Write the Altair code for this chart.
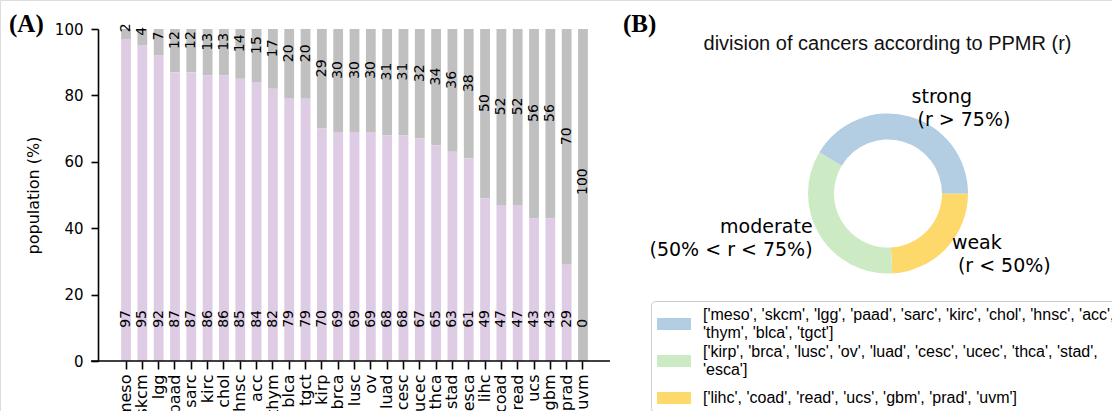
import json
import math
import textwrap
import altair as alt
import pandas as pd

# ---------------- data ----------------
cancers = ["meso", "skcm", "lgg", "paad", "sarc", "kirc", "chol", "hnsc", "acc", "thym",
           "blca", "tgct", "kirp", "brca", "lusc", "ov", "luad", "cesc", "ucec", "thca",
           "stad", "esca", "lihc", "coad", "read", "ucs", "gbm", "prad", "uvm"]
pink_pct = [97, 95, 92, 87, 87, 86, 86, 85, 84, 82, 79, 79, 70, 69, 69, 69, 68, 68, 67, 65,
            63, 61, 49, 47, 47, 43, 43, 29, 0]
grey_pct = [2, 4, 7, 12, 12, 13, 13, 14, 15, 17, 20, 20, 29, 30, 30, 30, 31, 31, 32, 34,
            36, 38, 50, 52, 52, 56, 56, 70, 100]
y_ticks = [0, 20, 40, 60, 80, 100]

groups = ["strong", "moderate", "weak"]
group_counts = [12, 10, 7]
group_line1 = ["strong", "moderate", "weak"]
group_line2 = ["(r > 75%)", "(50% < r < 75%)", "(r < 50%)"]
group_side = ["right", "left", "right"]
group_colors = ["#b3cde3", "#ccebc5", "#fdd86b"]
group_members = [
    ["meso", "skcm", "lgg", "paad", "sarc", "kirc", "chol", "hnsc", "acc", "thym", "blca", "tgct"],
    ["kirp", "brca", "lusc", "ov", "luad", "cesc", "ucec", "thca", "stad", "esca"],
    ["lihc", "coad", "read", "ucs", "gbm", "prad", "uvm"],
]
panel_b_title = "division of cancers according to PPMR (r)"

PINK = "#decbe4"
GREY = "#c0c0c0"

# ---------------- bar panel ----------------
bars_df = pd.DataFrame({"cancer": cancers, "pink": pink_pct, "grey": grey_pct})

x_enc = alt.X(
    "cancer:N", sort=cancers, title=None,
    scale=alt.Scale(range=[104.8, 604.2], paddingInner=0.4, paddingOuter=1),
    axis=alt.Axis(orient="bottom", offset=-50, labelAngle=-90, labelPadding=5, tickSize=8,
                  labelFont="DejaVu Sans", labelFontSize=16, labelColor="black",
                  domain=False, tickColor="black", tickWidth=1.6, grid=False),
)
y_scale = alt.Scale(domain=[0, 100], range=[361, 29], nice=False, zero=True)
y_enc = alt.Y(
    "pink:Q", scale=y_scale,
    axis=alt.Axis(values=y_ticks, offset=-98, tickSize=7, labelPadding=8,
                  labelFont="DejaVu Sans", labelFontSize=15, labelColor="black",
                  domainColor="black", tickColor="black", domainWidth=1.6, tickWidth=1.6,
                  grid=False, title="population (%)", titleFont="DejaVu Sans",
                  titleFontSize=16, titleFontWeight="normal", titleColor="black",
                  titlePadding=13),
)

base = alt.Chart(bars_df)
pink_bars = base.mark_bar(color=PINK).encode(x=x_enc, y=y_enc)
grey_bars = base.mark_bar(color=GREY).encode(x=x_enc, y=alt.Y("pink:Q", scale=y_scale), y2=alt.datum(100))
top_labels = base.transform_calculate(ytop="100 - datum.grey / 2").mark_text(
    angle=270, align="left", baseline="middle", font="DejaVu Sans", fontSize=14, color="black"
).encode(x=x_enc, y=alt.Y("ytop:Q", scale=y_scale), text="grey:Q")
bottom_labels = base.mark_text(
    angle=270, align="left", baseline="middle", font="DejaVu Sans", fontSize=14, color="black"
).encode(x=x_enc, y=alt.datum(10, scale=y_scale), text="pink:Q")
# x-axis spine spanning the full plot width like the reference
x_spine = alt.Chart(pd.DataFrame({"v": [0]})).mark_rule(color="black", strokeWidth=1.6).encode(
    y=alt.Y("v:Q", scale=y_scale), x=alt.value(91), x2=alt.value(610)
)

# ---------------- donut panel ----------------
order_idx = list(range(len(groups)))[::-1]  # weak first clockwise from 3 o'clock
donut_df = pd.DataFrame({"group": groups, "count": group_counts, "ord": order_idx,
                         "line1": group_line1, "line2": group_line2, "side": group_side})
donut_df = donut_df.sort_values("ord")
donut_df["mid"] = donut_df["count"].cumsum() - donut_df["count"] / 2
total = sum(group_counts)

theta_scale = alt.Scale(domain=[0, total], range=[math.pi / 2, math.pi / 2 + 2 * math.pi])
CX, CY = 888, 193.5

legend_lines = {g: textwrap.wrap(str(m), 70) for g, m in zip(groups, group_members)}
label_expr = (
    f"datum.label == 'strong' ? {json.dumps(legend_lines['strong'])} : "
    f"datum.label == 'moderate' ? {json.dumps(legend_lines['moderate'])} : "
    f"{json.dumps(legend_lines['weak'])}"
)
baseline_expr = (
    f"datum.label == 'strong' ? {json.dumps('line-bottom' if len(legend_lines['strong']) > 1 else 'middle')} : "
    f"datum.label == 'moderate' ? {json.dumps('line-bottom' if len(legend_lines['moderate']) > 1 else 'middle')} : "
    f"{json.dumps('line-bottom' if len(legend_lines['weak']) > 1 else 'middle')}"
)

arc = alt.Chart(donut_df).mark_arc(innerRadius=54, outerRadius=80).encode(
    theta=alt.Theta("count:Q", stack=True, scale=theta_scale),
    color=alt.Color(
        "group:N",
        scale=alt.Scale(domain=groups, range=group_colors),
        legend=alt.Legend(
            orient="none", legendX=651, legendY=301, title=None, labelExpr=label_expr,
            labelBaseline={"expr": baseline_expr},
            symbolType="M-1,-0.35H1V0.35H-1Z", symbolSize=1156, symbolStrokeWidth=0,
            symbolOpacity=1, labelFont="Liberation Sans", labelFontSize=16,
            labelColor="black", labelLimit=3000, labelOffset=12, padding=6,
            strokeColor="#cccccc", cornerRadius=4, fillColor="white", rowPadding=3,
        ),
    ),
    order=alt.Order("ord:Q"),
    x=alt.value(CX), y=alt.value(CY),
)

donut_labels = []
for side, align, indent in (("right", "left", 6), ("left", "right", 0)):
    lab = alt.Chart(donut_df).transform_filter(f"datum.side == '{side}'")
    common = dict(radius=88, align=align, baseline="middle", font="DejaVu Sans",
                  fontSize=19, color="black")
    donut_labels.append(
        lab.mark_text(dy=-11.5, **common).encode(
            theta=alt.Theta("mid:Q", stack=False, scale=theta_scale),
            text="line1:N", x=alt.value(CX), y=alt.value(CY),
        )
    )
    donut_labels.append(
        lab.mark_text(dy=11.5, dx=indent, **common).encode(
            theta=alt.Theta("mid:Q", stack=False, scale=theta_scale),
            text="line2:N", x=alt.value(CX), y=alt.value(CY),
        )
    )

# ---------------- annotations ----------------
title_b = alt.Chart(pd.DataFrame({"t": [panel_b_title]})).mark_text(
    font="Liberation Sans", fontSize=20, color="#111111", align="center", baseline="alphabetic"
).encode(text="t:N", x=alt.value(887.5), y=alt.value(50))
tag_a = alt.Chart(pd.DataFrame({"t": ["(A)"]})).mark_text(
    font="Liberation Serif", fontSize=25, fontWeight="bold", color="black", align="left",
    baseline="alphabetic"
).encode(text="t:N", x=alt.value(9), y=alt.value(32))
tag_b = alt.Chart(pd.DataFrame({"t": ["(B)"]})).mark_text(
    font="Liberation Serif", fontSize=25, fontWeight="bold", color="black", align="left",
    baseline="alphabetic"
).encode(text="t:N", x=alt.value(623), y=alt.value(32))

chart = alt.layer(
    grey_bars, pink_bars, top_labels, bottom_labels, x_spine, arc, *donut_labels,
    title_b, tag_a, tag_b
).resolve_scale(color="independent").properties(
    width=1112, height=411, padding=0,
    autosize=alt.AutoSizeParams(type="none"),
).configure_view(stroke=None).configure(background="white")

chart.save("out.html", embed_options={"renderer": "svg", "actions": False})
